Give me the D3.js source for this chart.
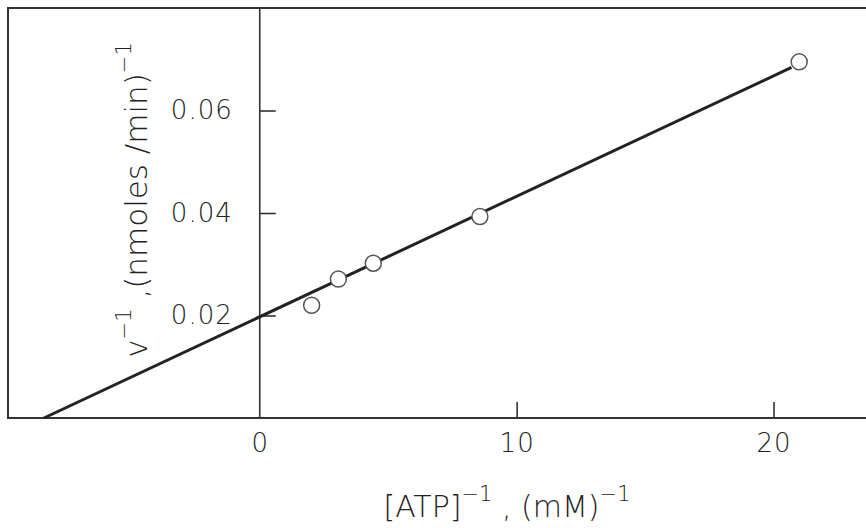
<!DOCTYPE html>
<html>
<head>
<meta charset="utf-8">
<script src="https://cdn.jsdelivr.net/npm/d3@7"></script>
<style>
  body { margin: 0; background: #fff; }
  svg text { font-family: "DejaVu Sans", sans-serif; font-weight: 200; fill: #222; }
</style>
</head>
<body>
<div id="chart"></div>
<script>
// reciprocal plot data
var invATP = [2.02, 3.06, 4.42, 8.57, 21.0];
var invV = [0.0220, 0.0271, 0.0302, 0.0393, 0.0695];

// fitted line end points
var lineX = [-8.4, 20.7];
var lineY = [0, 0.0684];

var xTicks = [0, 10, 20];
var yTicks = [0.02, 0.04, 0.06];

var width = 866, height = 528;

var svg = d3.select("#chart").append("svg")
            .attr("width", width)
            .attr("height", height);

var x = d3.scaleLinear().domain([-9.8, 23.6]).range([8, 866]);
var y = d3.scaleLinear().domain([0, 0.08]).range([418, 8]);

// frame
svg.append("rect")
   .attr("x", x(-9.8)).attr("y", y(0.08))
   .attr("width", x(23.6) - x(-9.8) + 4)
   .attr("height", y(0) - y(0.08))
   .style("fill", "none")
   .style("stroke", "#333")
   .style("stroke-width", 2);

// y axis through x = 0
var yAxis = d3.axisLeft(y)
              .tickValues(yTicks)
              .tickSizeInner(-16)
              .tickSizeOuter(0)
              .tickPadding(27)
              .tickFormat(d3.format(".2f"));

var gy = svg.append("g")
            .attr("transform", "translate(" + x(0) + ",0)")
            .call(yAxis);
gy.select(".domain").remove();
gy.selectAll(".tick line").style("stroke", "#333").style("stroke-width", 1.6);
gy.selectAll(".tick text").style("font-size", "26px").style("fill", "#222")
  .style("font-family", null).style("letter-spacing", "1px");

svg.append("line")
   .attr("x1", x(0)).attr("x2", x(0))
   .attr("y1", y(0.08)).attr("y2", y(0))
   .style("stroke", "#333")
   .style("stroke-width", 1.6);

// x axis along the bottom
var xAxis = d3.axisBottom(x)
              .tickValues(xTicks)
              .tickSizeInner(-16)
              .tickSizeOuter(0)
              .tickPadding(16);

var gx = svg.append("g")
            .attr("transform", "translate(0," + y(0) + ")")
            .call(xAxis);
gx.select(".domain").remove();
gx.selectAll(".tick line").style("stroke", "#333").style("stroke-width", 1.6)
  .filter(function(d) { return d === 0; }).remove();
gx.selectAll(".tick text").style("font-size", "26px").style("fill", "#222")
  .style("font-family", null).style("letter-spacing", "1px");

// fitted line
svg.append("line")
   .attr("x1", x(lineX[0])).attr("y1", y(lineY[0]))
   .attr("x2", x(lineX[1])).attr("y2", y(lineY[1]))
   .style("stroke", "#222")
   .style("stroke-width", 3);

// points
svg.selectAll("circle")
   .data(invATP)
   .enter()
   .append("circle")
   .attr("cx", function(d) { return x(d); })
   .attr("cy", function(d, i) { return y(invV[i]); })
   .attr("r", 8)
   .style("fill", "white")
   .style("stroke", "#555")
   .style("stroke-width", 1.5);

// x label
var xl = svg.append("text")
            .attr("x", 507)
            .attr("y", 517)
            .attr("text-anchor", "middle")
            .style("font-size", "30px");
xl.append("tspan").text("[ATP]");
xl.append("tspan").attr("dy", -16).style("font-size", "21px").text("\u22121");
xl.append("tspan").attr("dy", 16).text(" , (mM)");
xl.append("tspan").attr("dy", -16).style("font-size", "21px").text("\u22121");

// y label
var yl = svg.append("text")
            .attr("transform", "translate(147,200) rotate(-90)")
            .attr("text-anchor", "middle")
            .style("font-size", "31px");
yl.append("tspan").text("v");
yl.append("tspan").attr("dy", -16).style("font-size", "21px").text("\u22121");
yl.append("tspan").attr("dy", 16).text(" ,(nmoles /min)");
yl.append("tspan").attr("dy", -16).style("font-size", "21px").text("\u22121");
</script>
</body>
</html>
